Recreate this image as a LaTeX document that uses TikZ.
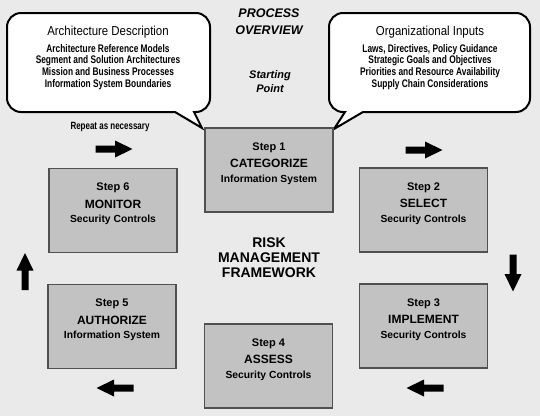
\documentclass[tikz,border=0pt]{standalone}
\usepackage{fontspec}
\setmainfont{Liberation Sans}
\newfontfamily\narrowfont{Liberation Sans}[FakeStretch=0.76]
\newfontfamily\headfont{Liberation Sans}[FakeStretch=0.88]
\usetikzlibrary{calc}
\definecolor{bg}{HTML}{EAEAEA}
\definecolor{boxfill}{HTML}{C2C2C2}
\definecolor{boxline}{HTML}{505050}
\tikzset{
 stepbox/.style={draw=boxline, fill=boxfill, line width=1.4pt, minimum width=128pt, minimum height=84pt, inner sep=0pt},
 steptext/.style={align=center, font=\bfseries\fontsize{10.3}{14.4}\selectfont, inner sep=0pt},
 bubble/.style={draw=black, fill=white, line width=2pt, line join=miter},
 calltitle/.style={font=\headfont\fontsize{13}{15}\selectfont, inner sep=0pt},
 calltext/.style={font=\narrowfont\bfseries\fontsize{11}{11.7}\selectfont, align=center, inner sep=0pt},
 bigtitle/.style={font=\bfseries\itshape\fontsize{12.5}{17}\selectfont, align=center, inner sep=0pt},
 smalltitle/.style={font=\bfseries\itshape\fontsize{11}{14}\selectfont, align=center, inner sep=0pt},
 centertitle/.style={font=\bfseries\fontsize{14}{15}\selectfont, align=center, inner sep=0pt},
 note/.style={font=\narrowfont\bfseries\fontsize{10.5}{12}\selectfont, inner sep=0pt},
 blockarrow/.pic={\fill[black] (-18.5,-3.5) -- (1,-3.5) -- (1,-8.5) -- (18.5,0) -- (1,8.5) -- (1,3.5) -- (-18.5,3.5) -- cycle;},
}
\newcommand\mkstep[5]{%
 \node[stepbox] (#1) at #2 {};
 \node[steptext] (#1t) at ($(#1.center)+(0,-6.5)$) {{\fontsize{11}{14.4}\selectfont Step #3}\\[2.9pt]{\fontsize{12}{14.4}\selectfont #4}\\#5};
}
\begin{document}
\begin{tikzpicture}[x=1pt,y=-1pt]
\useasboundingbox (0,0) rectangle (540,416);
\fill[bg] (0,0) rectangle (540,416);

% callouts
\draw[bubble] (108,13) [rounded corners=14] -- (210,13) -- (210,112) [sharp corners] -- (194,112) -- (202,128) -- (175,112) [rounded corners=14] -- (7,112) -- (7,13) -- cycle;
\draw[bubble] (430,13) [rounded corners=14] -- (530,13) -- (530,112) [sharp corners] -- (363,112) -- (334,129) -- (345,112) [rounded corners=14] -- (329,112) -- (329,13) -- cycle;

\node[calltitle] (lt) at (108,32) {Architecture Description};
\node[calltext] (ll) at (108,67) {Architecture Reference Models\\Segment and Solution Architectures\\Mission and Business Processes\\Information System Boundaries};
\node[calltitle] (rt) at (430,32) {Organizational Inputs};
\node[calltext] (rl) at (430,67) {Laws, Directives, Policy Guidance\\Strategic Goals and Objectives\\Priorities and Resource Availability\\Supply Chain Considerations};

\node[bigtitle] (po) at (269,22) {PROCESS\\OVERVIEW};
\node[smalltitle] (sp) at (270,82) {Starting\\Point};
\node[note] (rep) at (110,127) {Repeat as necessary};
\node[centertitle] (rmf) at (269,258) {RISK\\MANAGEMENT\\FRAMEWORK};

% steps
\mkstep{s1}{(269,170)}{1}{CATEGORIZE}{Information System}
\mkstep{s2}{(423.5,210)}{2}{SELECT}{Security Controls}
\mkstep{s3}{(423.5,326)}{3}{IMPLEMENT}{Security Controls}
\mkstep{s4}{(268.5,366)}{4}{ASSESS}{Security Controls}
\mkstep{s5}{(112,326.5)}{5}{AUTHORIZE}{Information System}
\mkstep{s6}{(113,210.5)}{6}{MONITOR}{Security Controls}

% block arrows
\pic at (114,149) {blockarrow};
\pic at (424,150) {blockarrow};
\pic[rotate=-90] at (513,273) {blockarrow};
\pic[rotate=180] at (425,388) {blockarrow};
\pic[rotate=180] at (115,388) {blockarrow};
\pic[rotate=90] at (25,271.5) {blockarrow};
\end{tikzpicture}
\end{document}
